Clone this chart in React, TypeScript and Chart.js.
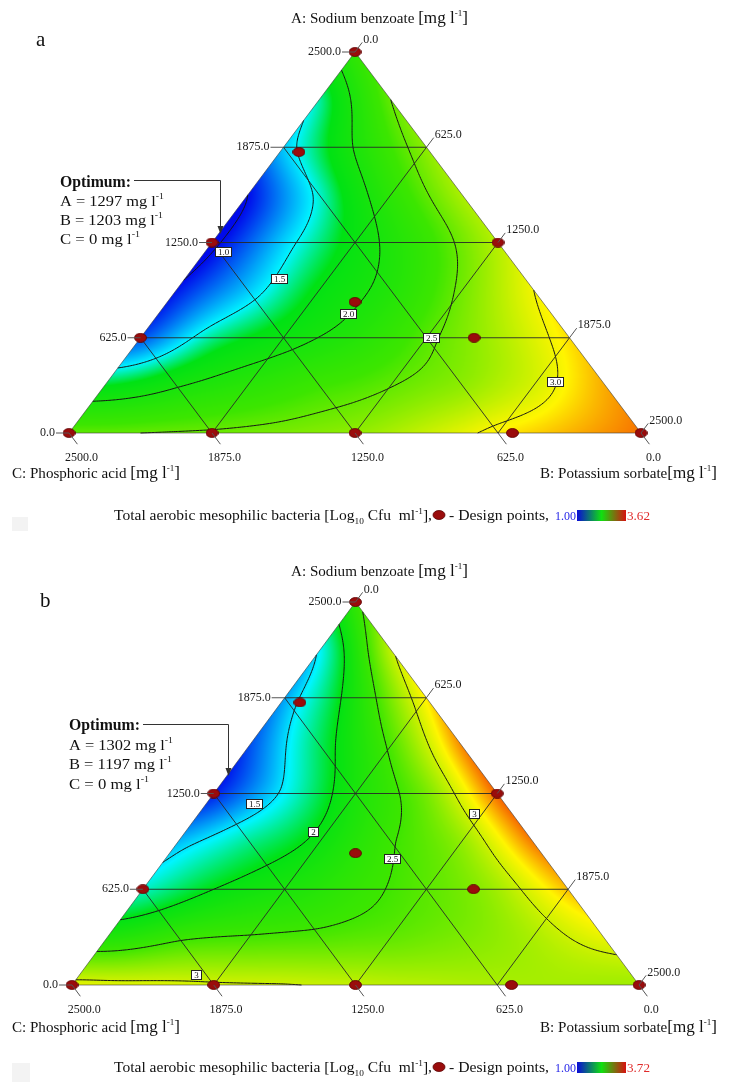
import React, { useEffect, useRef } from 'react';
import { Chart, registerables } from 'chart.js';

Chart.register(...registerables);

const FONT = '"Liberation Serif", "Times New Roman", serif';
const TOTAL = 2500;
const TICK_VALUES = [0, 625, 1250, 1875, 2500];
const TICK_LABELS = ['0.0', '625.0', '1250.0', '1875.0', '2500.0'];
const GRID_VALUES = [625, 1250, 1875];

// design points (mg/l); C = 2500 - A - B
const DESIGN_A = [2500, 1844, 1250, 1250, 860, 625, 625, 0, 0, 0, 0, 0];
const DESIGN_B = [0, 83, 0, 1250, 820, 0, 1458, 0, 625, 1250, 1938, 2500];

// response read at lattice nodes: row i -> A = i*312.5, entry j -> B = j*312.5
const SURFACE_A = [
  [2.47, 2.5, 2.53, 2.58, 2.66, 2.85, 3.06, 3.2, 3.36],
  [1.75, 1.97, 2.17, 2.35, 2.49, 2.65, 2.9, 3.22],
  [1.15, 1.62, 1.88, 2.12, 2.45, 2.75, 3.1],
  [1.02, 1.4, 1.8, 2.1, 2.55, 3.0],
  [0.95, 1.42, 1.85, 2.3, 2.8],
  [1.0, 1.55, 2.2, 2.75],
  [1.4, 2.02, 2.65],
  [1.6, 2.5],
  [2.25],
];
const SURFACE_B = [
  [3.08, 3.06, 3.03, 3.01, 2.97, 2.92, 2.88, 2.86, 2.85],
  [2.25, 2.45, 2.52, 2.56, 2.62, 2.72, 2.88, 3.1],
  [1.65, 2.0, 2.2, 2.42, 2.6, 2.85, 3.3],
  [1.4, 1.75, 2.08, 2.48, 2.8, 3.45],
  [1.05, 1.55, 2.2, 2.7, 3.5],
  [1.15, 1.85, 2.55, 3.42],
  [1.35, 2.2, 3.2],
  [1.55, 2.95],
  [2.4],
];

const LEVELS_A = [1.0, 1.5, 2.0, 2.5, 3.0];
const LEVEL_TEXT_A = ['1.0', '1.5', '2.0', '2.5', '3.0'];
const LEVEL_LABEL_POS_A_A = [1188, 1010, 780, 623, 335];
const LEVEL_LABEL_POS_B_A = [80, 413, 830, 1275, 1960];

const LEVELS_B = [1.5, 2, 2.5, 3];
const LEVEL_TEXT_B = ['1.5', '2', '2.5', '3', '3'];
const LEVEL_LABEL_POS_A_B = [1183, 1000, 823, 1115, 65];
const LEVEL_LABEL_POS_B_B = [215, 563, 1000, 1215, 515];

const RANGE_A = [1.0, 3.62];
const RANGE_B = [1.0, 3.72];
const RANGE_TEXT_A = ['1.00', '3.62'];
const RANGE_TEXT_B = ['1.00', '3.72'];
const OPTIMUM_A = ['1297', '1203', '0'];
const OPTIMUM_B = ['1302', '1197', '0'];

const STOP_COLORS = [
  [0, 10, 235],
  [0, 245, 255],
  [0, 226, 20],
  [60, 230, 0],
  [255, 245, 0],
  [240, 0, 0],
];
const STOP_POS_A = [0, 0.19, 0.29, 0.52, 0.78, 1];
const STOP_POS_B = [0, 0.2, 0.36, 0.55, 0.8, 1];

function colorAt(v: number, lo: number, hi: number, pos: number[]) {
  let t = (v - lo) / (hi - lo);
  t = Math.max(0, Math.min(1, t));
  let k = 0;
  while (k < pos.length - 2 && t > pos[k + 1]) k++;
  const f = (t - pos[k]) / (pos[k + 1] - pos[k]);
  const c0 = STOP_COLORS[k], c1 = STOP_COLORS[k + 1];
  return [c0[0] + (c1[0] - c0[0]) * f, c0[1] + (c1[1] - c0[1]) * f, c0[2] + (c1[2] - c0[2]) * f];
}

function buildSurface(rows: number[][]) {
  const n = rows.length - 1;
  const px: number[] = [], py: number[] = [], val: number[] = [];
  rows.forEach((row, i) =>
    row.forEach((v, j) => {
      const a = i / n, b = j / n;
      px.push(b + a / 2);
      py.push(a * 0.8660254);
      val.push(v);
    })
  );
  const N = val.length, M = N + 3;
  const phi = (r2: number) => (r2 > 1e-12 ? 0.5 * r2 * Math.log(r2) : 0);
  const A: number[][] = [];
  for (let i = 0; i < M; i++) A.push(new Array(M + 1).fill(0));
  for (let i = 0; i < N; i++) {
    for (let j = 0; j < N; j++) {
      const dx = px[i] - px[j], dy = py[i] - py[j];
      A[i][j] = phi(dx * dx + dy * dy);
    }
    A[i][N] = 1; A[i][N + 1] = px[i]; A[i][N + 2] = py[i];
    A[N][i] = 1; A[N + 1][i] = px[i]; A[N + 2][i] = py[i];
    A[i][M] = val[i];
  }
  for (let c = 0; c < M; c++) {
    let p = c;
    for (let r = c + 1; r < M; r++) if (Math.abs(A[r][c]) > Math.abs(A[p][c])) p = r;
    const tmp = A[c]; A[c] = A[p]; A[p] = tmp;
    for (let r = 0; r < M; r++) {
      if (r === c) continue;
      const f = A[r][c] / A[c][c];
      if (f === 0) continue;
      for (let k = c; k <= M; k++) A[r][k] -= f * A[c][k];
    }
  }
  const w = A.map((row, i) => row[M] / row[i]);
  return (a: number, b: number) => {
    const x = b + a / 2, y = a * 0.8660254;
    let s = w[N] + w[N + 1] * x + w[N + 2] * y;
    for (let i = 0; i < N; i++) {
      const dx = x - px[i], dy = y - py[i];
      s += w[i] * phi(dx * dx + dy * dy);
    }
    return s;
  };
}

type Seg = { t?: string; size?: number; dy?: number; bold?: boolean; gap?: number; color?: string };

function drawRich(ctx: CanvasRenderingContext2D, segs: Seg[], x: number, y: number, width?: number) {
  const ws = segs.map((s) => {
    if (s.gap) return s.gap;
    ctx.font = `${s.bold ? 'bold ' : ''}${s.size}px ${FONT}`;
    return ctx.measureText(s.t || '').width;
  });
  const total = ws.reduce((p, c) => p + c, 0);
  const sx = width ? width / total : 1;
  ctx.save();
  ctx.translate(x, y);
  ctx.scale(sx, 1);
  ctx.textAlign = 'left';
  ctx.textBaseline = 'alphabetic';
  let cx = 0;
  segs.forEach((s, i) => {
    if (!s.gap) {
      ctx.font = `${s.bold ? 'bold ' : ''}${s.size}px ${FONT}`;
      ctx.fillStyle = s.color || '#111';
      ctx.fillText(s.t || '', cx, s.dy || 0);
    }
    cx += ws[i];
  });
  ctx.restore();
}

const units = (size: number): Seg[] => [
  { t: '[mg l', size },
  { t: '-1', size: 9, dy: -7 },
  { t: ']', size },
];

function drawDot(ctx: CanvasRenderingContext2D, x: number, y: number) {
  ctx.save();
  ctx.fillStyle = '#9a0c0c';
  ctx.strokeStyle = '#5a0000';
  ctx.lineWidth = 0.8;
  ctx.beginPath();
  ctx.ellipse(x, y, 6, 4.5, 0, 0, Math.PI * 2);
  ctx.fill();
  ctx.stroke();
  ctx.restore();
}

type PlotCfg = {
  top: number;
  pad: { left: number; right: number; top: number; bottom: number };
  surface: number[][];
  levels: number[];
  levelText: string[];
  labelA: number[];
  labelB: number[];
  range: number[];
  stops: number[];
  rangeText: string[];
  optimum: string[];
  letter: string;
  letterPos: number[];
  titlePos: number[];
  optX: number;
  optY: number[];
  leader: number[];
  axisY: number;
  legendY: number;
  square: number[];
};

const PLOT_A: PlotCfg = {
  top: 0,
  pad: { left: 69, right: 93, top: 52, bottom: 108 },
  surface: SURFACE_A,
  levels: LEVELS_A,
  levelText: LEVEL_TEXT_A,
  labelA: LEVEL_LABEL_POS_A_A,
  labelB: LEVEL_LABEL_POS_B_A,
  range: RANGE_A,
  stops: STOP_POS_A,
  rangeText: RANGE_TEXT_A,
  optimum: OPTIMUM_A,
  letter: 'a',
  letterPos: [36, 46],
  titlePos: [291, 23, 177],
  optX: 60,
  optY: [187, 206, 225, 244],
  leader: [134, 180, 220, 234],
  axisY: 478,
  legendY: 520,
  square: [12, 517, 16, 14],
};

const PLOT_B: PlotCfg = {
  top: 541,
  pad: { left: 72, right: 95, top: 61, bottom: 97 },
  surface: SURFACE_B,
  levels: LEVELS_B,
  levelText: LEVEL_TEXT_B,
  labelA: LEVEL_LABEL_POS_A_B,
  labelB: LEVEL_LABEL_POS_B_B,
  range: RANGE_B,
  stops: STOP_POS_B,
  rangeText: RANGE_TEXT_B,
  optimum: OPTIMUM_B,
  letter: 'b',
  letterPos: [40, 607],
  titlePos: [291, 576, 177],
  optX: 69,
  optY: [730, 750, 769, 789],
  leader: [143, 724, 228, 776],
  axisY: 1032,
  legendY: 1072,
  square: [12, 1063, 18, 19],
};

function makePlugin(cfg: PlotCfg) {
  let heat: HTMLCanvasElement | null = null;
  let heatPos = [0, 0];
  const f = buildSurface(cfg.surface);
  return {
    id: 'ternary' + cfg.letter,
    beforeDatasetsDraw(chart: any) {
      const ctx: CanvasRenderingContext2D = chart.ctx;
      const xs = chart.scales.x, ys = chart.scales.y;
      const P = (A: number, B: number) => ({
        x: xs.getPixelForValue((B + A / 2) / TOTAL),
        y: ys.getPixelForValue(A / TOTAL),
      });
      const apex = P(TOTAL, 0), bv = P(0, TOTAL), cv = P(0, 0);
      if (!heat) {
        const x0 = Math.floor(cv.x) - 2, x1 = Math.ceil(bv.x) + 2;
        const y0 = Math.floor(apex.y) - 2, y1 = Math.ceil(cv.y) + 2;
        const W = x1 - x0, H = y1 - y0;
        const off = document.createElement('canvas');
        off.width = W; off.height = H;
        const g = off.getContext('2d')!;
        const img = g.createImageData(W, H);
        for (let py = 0; py < H; py++) {
          const a = ys.getValueForPixel(y0 + py + 0.5);
          for (let px = 0; px < W; px++) {
            const xv = xs.getValueForPixel(x0 + px + 0.5);
            const b = xv - a / 2;
            const c = 1 - a - b;
            if (a < -0.02 || b < -0.02 || c < -0.02) continue;
            const aa = Math.max(0, Math.min(1, a));
            const bb = Math.max(0, Math.min(1 - aa, b));
            const col = colorAt(f(aa, bb), cfg.range[0], cfg.range[1], cfg.stops);
            const o = (py * W + px) * 4;
            img.data[o] = col[0]; img.data[o + 1] = col[1]; img.data[o + 2] = col[2]; img.data[o + 3] = 255;
          }
        }
        g.putImageData(img, 0, 0);
        heat = off;
        heatPos = [x0, y0];
      }
      ctx.save();
      ctx.beginPath();
      ctx.moveTo(apex.x, apex.y);
      ctx.lineTo(bv.x, bv.y);
      ctx.lineTo(cv.x, cv.y);
      ctx.closePath();
      ctx.clip();
      ctx.drawImage(heat, heatPos[0], heatPos[1]);
      ctx.restore();

      const NN = 160;
      const vals: number[][] = [];
      for (let i = 0; i <= NN; i++) {
        const row: number[] = [];
        for (let j = 0; j <= NN - i; j++) row.push(f(i / NN, j / NN));
        vals.push(row);
      }
      const toPix = (a: number, b: number) => ({
        x: xs.getPixelForValue(b + a / 2),
        y: ys.getPixelForValue(a),
      });
      ctx.save();
      ctx.strokeStyle = '#151515';
      ctx.lineWidth = 1;
      ctx.beginPath();
      const tri = (L: number, p: number[][]) => {
        const pts: number[][] = [];
        for (let e = 0; e < 3; e++) {
          const u = p[e], v = p[(e + 1) % 3];
          if ((u[2] < L) !== (v[2] < L)) {
            const t = (L - u[2]) / (v[2] - u[2]);
            pts.push([u[0] + (v[0] - u[0]) * t, u[1] + (v[1] - u[1]) * t]);
          }
        }
        if (pts.length === 2) {
          const q0 = toPix(pts[0][0], pts[0][1]);
          const q1 = toPix(pts[1][0], pts[1][1]);
          ctx.moveTo(q0.x, q0.y);
          ctx.lineTo(q1.x, q1.y);
        }
      };
      for (const L of cfg.levels) {
        for (let i = 0; i < NN; i++) {
          for (let j = 0; j < NN - i; j++) {
            const n0 = [i / NN, j / NN, vals[i][j]];
            const n1 = [(i + 1) / NN, j / NN, vals[i + 1][j]];
            const n2 = [i / NN, (j + 1) / NN, vals[i][j + 1]];
            tri(L, [n0, n1, n2]);
            if (i + j + 2 <= NN) {
              const n3 = [(i + 1) / NN, (j + 1) / NN, vals[i + 1][j + 1]];
              tri(L, [n1, n3, n2]);
            }
          }
        }
      }
      ctx.stroke();
      ctx.restore();
    },
    afterDatasetsDraw(chart: any) {
      const ctx: CanvasRenderingContext2D = chart.ctx;
      const xs = chart.scales.x, ys = chart.scales.y;
      const T = cfg.top;
      const P = (A: number, B: number) => ({
        x: xs.getPixelForValue((B + A / 2) / TOTAL),
        y: ys.getPixelForValue(A / TOTAL),
      });
      const apex = P(TOTAL, 0), bv = P(0, TOTAL), cv = P(0, 0);
      const unit = (p: any, q: any) => {
        const dx = q.x - p.x, dy = q.y - p.y, l = Math.hypot(dx, dy);
        return { x: dx / l, y: dy / l };
      };
      const dB = unit(cv, apex);
      const dC = unit(apex, bv);
      ctx.save();
      ctx.strokeStyle = '#555';
      ctx.lineWidth = 1;
      ctx.fillStyle = '#1a1a1a';
      ctx.font = `12px ${FONT}`;
      TICK_VALUES.forEach((v, k) => {
        const pa = P(v, 0);
        ctx.beginPath();
        ctx.moveTo(pa.x, pa.y);
        ctx.lineTo(pa.x - 13, pa.y);
        ctx.stroke();
        ctx.textAlign = 'right';
        ctx.textBaseline = 'middle';
        ctx.fillText(TICK_LABELS[k], pa.x - 14, pa.y);
        const pb = P(TOTAL - v, v);
        const eb = { x: pb.x + dB.x * 12, y: pb.y + dB.y * 12 };
        ctx.beginPath();
        ctx.moveTo(pb.x, pb.y);
        ctx.lineTo(eb.x, eb.y);
        ctx.stroke();
        ctx.textAlign = 'left';
        ctx.textBaseline = 'middle';
        ctx.fillText(TICK_LABELS[k], eb.x + 1, eb.y - 3);
        const pc = P(0, TOTAL - v);
        const ec = { x: pc.x + dC.x * 14, y: pc.y + dC.y * 14 };
        ctx.beginPath();
        ctx.moveTo(pc.x, pc.y);
        ctx.lineTo(ec.x, ec.y);
        ctx.stroke();
        ctx.textAlign = 'center';
        ctx.textBaseline = 'alphabetic';
        ctx.fillText(TICK_LABELS[k], ec.x + 4, ec.y + 17);
      });
      ctx.restore();

      ctx.save();
      ctx.font = `9px ${FONT}`;
      cfg.levelText.forEach((txt, i) => {
        const p = P(cfg.labelA[i], cfg.labelB[i]);
        const w = Math.round(ctx.measureText(txt).width) + 6;
        const h = 10;
        const x = Math.round(p.x - w / 2), y = Math.round(p.y - h / 2);
        ctx.fillStyle = '#fff';
        ctx.fillRect(x, y, w, h);
        ctx.strokeStyle = '#222';
        ctx.lineWidth = 1;
        ctx.strokeRect(x + 0.5, y + 0.5, w - 1, h - 1);
        ctx.fillStyle = '#111';
        ctx.textAlign = 'center';
        ctx.textBaseline = 'middle';
        ctx.fillText(txt, x + w / 2, y + h / 2 + 0.5);
      });
      ctx.restore();

      drawRich(ctx, [{ t: cfg.letter, size: 21 }], cfg.letterPos[0], cfg.letterPos[1] - T);
      drawRich(ctx, [{ t: 'A: Sodium benzoate ', size: 15 }, ...units(17)], cfg.titlePos[0], cfg.titlePos[1] - T, cfg.titlePos[2]);

      drawRich(ctx, [{ t: 'Optimum:', size: 16, bold: true }], cfg.optX, cfg.optY[0] - T, 71);
      drawRich(ctx, [{ t: `A = ${cfg.optimum[0]} mg l`, size: 15 }, { t: '-1', size: 9, dy: -7 }], cfg.optX, cfg.optY[1] - T, 104);
      drawRich(ctx, [{ t: `B = ${cfg.optimum[1]} mg l`, size: 15 }, { t: '-1', size: 9, dy: -7 }], cfg.optX, cfg.optY[2] - T, 103);
      drawRich(ctx, [{ t: `C = ${cfg.optimum[2]} mg l`, size: 15 }, { t: '-1', size: 9, dy: -7 }], cfg.optX, cfg.optY[3] - T, 80);
      const [lx1, ly, lx2, ltip] = cfg.leader;
      ctx.save();
      ctx.strokeStyle = '#333';
      ctx.fillStyle = '#333';
      ctx.lineWidth = 1;
      ctx.beginPath();
      ctx.moveTo(lx1, ly - T + 0.5);
      ctx.lineTo(lx2 + 0.5, ly - T + 0.5);
      ctx.lineTo(lx2 + 0.5, ltip - T - 7);
      ctx.stroke();
      ctx.beginPath();
      ctx.moveTo(lx2 - 2.5, ltip - T - 8);
      ctx.lineTo(lx2 + 3.5, ltip - T - 8);
      ctx.lineTo(lx2 + 0.5, ltip - T);
      ctx.closePath();
      ctx.fill();
      ctx.restore();

      drawRich(ctx, [{ t: 'C: Phosphoric acid ', size: 15 }, ...units(17)], 12, cfg.axisY - T, 168);
      drawRich(ctx, [{ t: 'B: Potassium sorbate', size: 15 }, ...units(17)], 540, cfg.axisY - T, 177);

      const ly2 = cfg.legendY - T;
      drawRich(
        ctx,
        [
          { t: 'Total aerobic mesophilic bacteria [Log', size: 15 },
          { t: '10', size: 9, dy: 4 },
          { t: ' Cfu  ml', size: 15 },
          { t: '-1', size: 9, dy: -6 },
          { t: '],', size: 15 },
        ],
        114,
        ly2,
        318
      );
      drawDot(ctx, 439, ly2 - 5);
      drawRich(ctx, [{ t: '- Design points,', size: 15 }], 449, ly2, 100);
      drawRich(ctx, [{ t: cfg.rangeText[0], size: 12, color: '#2424e8' }], 555, ly2, 21);
      const grad = ctx.createLinearGradient(577, 0, 626, 0);
      grad.addColorStop(0, '#0a0ad8');
      grad.addColorStop(0.5, '#10e010');
      grad.addColorStop(1, '#d81010');
      ctx.fillStyle = grad;
      ctx.fillRect(577, ly2 - 10, 49, 11);
      drawRich(ctx, [{ t: cfg.rangeText[1], size: 12, color: '#e02a2a' }], 627, ly2, 23);

      ctx.fillStyle = '#f3f3f3';
      ctx.fillRect(cfg.square[0], cfg.square[1] - T, cfg.square[2], cfg.square[3]);
    },
  };
}

function TernaryPlot({ cfg }: { cfg: PlotCfg }) {
  const ref = useRef<HTMLCanvasElement>(null);
  useEffect(() => {
    const canvas = ref.current!;
    const dot = document.createElement('canvas');
    dot.width = 13;
    dot.height = 10;
    const g = dot.getContext('2d')!;
    g.fillStyle = '#9a0c0c';
    g.strokeStyle = '#5a0000';
    g.lineWidth = 0.8;
    g.beginPath();
    g.ellipse(6.5, 5, 6, 4.5, 0, 0, Math.PI * 2);
    g.fill();
    g.stroke();

    const pt = (A: number, B: number) => ({ x: (B + A / 2) / TOTAL, y: A / TOTAL });
    const line = (data: any[], color: string) => ({
      data,
      showLine: true,
      pointRadius: 0,
      borderColor: color,
      borderWidth: 1,
      fill: false,
      tension: 0,
      order: 2,
      clip: false,
    });
    const datasets: any[] = [
      {
        label: 'Design points',
        data: DESIGN_A.map((A, i) => pt(A, DESIGN_B[i])),
        pointStyle: dot,
        pointRadius: 6,
        showLine: false,
        order: 0,
        clip: false,
      },
    ];
    GRID_VALUES.forEach((k) => {
      datasets.push(line([pt(k, 0), pt(k, TOTAL - k)], 'rgba(40,40,40,0.9)'));
      datasets.push(line([pt(0, k), pt(TOTAL - k, k)], 'rgba(40,40,40,0.9)'));
      datasets.push(line([pt(0, TOTAL - k), pt(TOTAL - k, 0)], 'rgba(40,40,40,0.9)'));
    });
    datasets.push(line([pt(TOTAL, 0), pt(0, TOTAL), pt(0, 0), pt(TOTAL, 0)], 'rgba(60,60,60,0.6)'));

    const chart = new Chart(canvas, {
      type: 'scatter',
      data: { datasets },
      options: {
        animation: false,
        responsive: false,
        maintainAspectRatio: false,
        devicePixelRatio: 1,
        events: [],
        layout: { padding: cfg.pad },
        scales: {
          x: { type: 'linear', min: 0, max: 1, display: false },
          y: { type: 'linear', min: 0, max: 1, display: false },
        },
        plugins: { legend: { display: false }, tooltip: { enabled: false } },
      },
      plugins: [makePlugin(cfg)],
    } as any);
    return () => chart.destroy();
  }, [cfg]);
  return (
    <canvas
      ref={ref}
      width={734}
      height={541}
      style={{ position: 'absolute', left: 0, top: cfg.top, width: 734, height: 541 }}
    />
  );
}

export default function App() {
  return (
    <div style={{ position: 'absolute', left: 0, top: 0, width: 734, height: 1082, background: '#fff', overflow: 'hidden' }}>
      <TernaryPlot cfg={PLOT_A} />
      <TernaryPlot cfg={PLOT_B} />
    </div>
  );
}
